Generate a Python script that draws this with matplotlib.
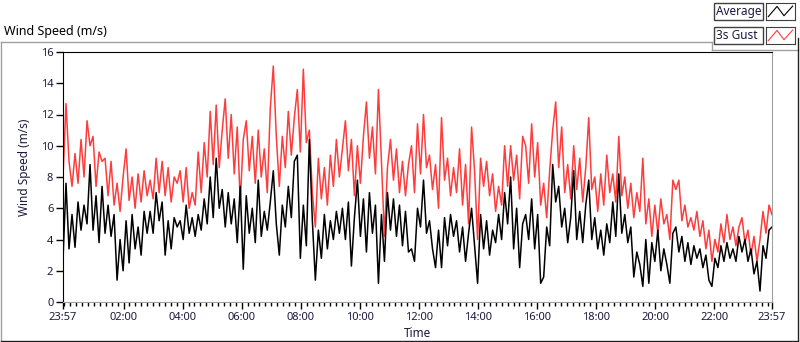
import numpy as np
import matplotlib.pyplot as plt
from matplotlib.patches import Rectangle
from matplotlib.lines import Line2D

# 字体设置
plt.rcParams['font.family'] = ['Noto Sans', 'DejaVu Sans']

# 平均风速 (m/s)，从 23:57 开始的一整天
avg_speed = [
    2.7, 7.6, 3.4, 5.6, 3.5, 6.4, 4.6, 6.2, 5.0, 8.8, 4.6, 6.8, 3.8, 7.4, 4.4, 6.2, 4.2, 5.6, 1.4, 4.0,
    2.0, 5.2, 2.5, 5.6, 3.4, 4.8, 3.0, 5.8, 4.4, 5.8, 4.4, 7.0, 5.2, 6.4, 3.0, 5.2, 3.4, 5.4, 4.8,
    5.2, 4.0, 6.2, 4.4, 5.4, 4.2, 5.6, 4.6, 6.6, 5.0, 8.0, 5.4, 9.2, 6.0, 7.2, 4.8, 7.0, 5.0, 6.6, 3.8,
    7.4, 2.1, 6.8, 4.4, 6.0, 3.8, 7.8, 4.2, 5.8, 4.6, 6.4, 8.4, 5.0, 3.0, 6.2, 4.8, 7.4, 5.4, 9.0,
    9.4, 2.8, 6.2, 3.6, 10.4, 5.2, 1.4, 4.6, 2.8, 5.6, 3.4, 5.2, 4.0, 5.8, 4.4, 6.0, 4.0, 6.4, 2.3,
    5.4, 7.8, 4.2, 6.6, 3.2, 7.0, 4.4, 6.2, 1.2, 5.6, 2.6, 7.0, 4.6, 6.6, 4.2, 6.2, 3.6, 5.8, 3.2,
    3.4, 2.6, 6.0, 4.8, 7.8, 4.4, 5.2, 3.4, 2.2, 4.6, 2.2, 5.4, 3.6, 5.6, 4.2, 5.2, 3.2, 4.8, 2.6,
    4.4, 6.0, 3.6, 1.2, 5.6, 3.4, 5.2, 3.0, 4.6, 3.8, 5.6, 4.0, 7.0, 5.0, 8.0, 3.4, 6.0, 2.2, 5.0,
    5.6, 4.0, 6.6, 3.4, 5.6, 1.2, 1.6, 4.8, 3.6, 8.8, 6.4, 7.4, 4.8, 6.0, 3.8, 5.4, 8.4, 4.0, 5.8,
    3.8, 6.2, 7.8, 4.0, 5.4, 3.4, 4.6, 3.0, 5.0, 3.8, 6.4, 4.2, 8.2, 4.4, 5.6, 3.8, 4.8, 1.6, 3.2, 2.4,
    1.0, 4.0, 1.2, 3.8, 2.6, 4.6, 2.0, 3.4, 2.4, 1.2, 4.4, 4.8, 3.2, 4.2, 2.6, 3.8, 2.4, 3.6, 2.8,
    3.4, 2.2, 3.0, 1.4, 1.0, 2.8, 2.2, 3.6, 2.6, 3.8, 2.8, 3.4, 2.6, 4.2, 3.2, 4.0, 2.6, 3.4, 1.8,
    2.6, 0.7, 3.6, 2.8, 4.6, 4.8,
]

# 3 秒阵风 (m/s)
gust_speed = [
    8.0, 12.7, 9.0, 7.4, 9.5, 7.6, 10.4, 8.0, 11.6, 10.0, 10.6, 7.4, 9.6, 9.0, 9.2, 6.8, 9.0, 6.2, 7.6,
    5.8, 8.0, 9.8, 6.5, 8.0, 6.0, 8.2, 6.4, 8.4, 6.8, 7.8, 6.6, 9.2, 7.0, 9.0, 6.8, 8.6, 6.4, 8.0, 7.6,
    8.4, 6.4, 8.6, 6.0, 7.0, 6.2, 9.6, 7.0, 10.2, 8.0, 12.2, 8.8, 12.6, 8.6, 11.0, 13.0, 9.2, 12.0, 8.2,
    11.2, 6.4, 10.4, 11.6, 8.4, 10.6, 7.6, 11.0, 8.0, 9.8, 7.0, 12.4, 15.1, 10.6, 7.4, 10.6, 8.6, 12.2,
    9.4, 11.8,
    13.6, 9.6, 14.9, 10.2, 11.0, 7.0, 4.8, 9.2, 6.6, 8.6, 6.2, 9.4, 7.4, 10.4, 8.0, 9.8, 11.6, 8.4,
    10.4, 6.8, 10.0, 7.6, 10.6, 12.8, 9.2, 11.2, 8.2, 13.6, 9.0, 4.2, 8.6, 10.4, 7.8, 9.8, 7.0, 9.0,
    6.8, 8.8,
    10.0, 7.0, 11.4, 8.2, 12.0, 8.6, 9.4, 7.2, 8.8, 6.0, 11.8, 7.8, 9.2, 6.8, 8.6, 7.0, 9.8, 6.2, 8.8,
    5.0, 11.2, 8.4, 4.0, 9.2, 7.4, 9.0, 6.8, 8.2, 5.8, 7.4, 6.2, 10.0, 7.4, 10.0, 7.8, 9.4, 6.6, 10.6,
    10.0, 7.6, 11.4, 8.0, 10.2, 6.2, 7.6, 5.4, 8.4, 11.0, 12.8, 8.6, 11.2, 7.0, 8.8, 6.6, 10.0, 7.2,
    9.2, 6.4, 8.6, 11.8, 7.2, 8.0, 5.8, 8.2, 6.2, 9.4, 7.0, 8.2, 6.4, 10.6, 6.8, 8.0, 6.0, 7.6, 5.4,
    7.0, 5.8,
    9.2, 5.0, 6.6, 4.2, 6.2, 4.4, 6.6, 5.0, 5.6, 4.0, 7.8, 7.2, 7.8, 5.2, 6.2, 4.8, 5.4, 4.6, 5.8, 4.2,
    5.2, 3.4, 4.6, 2.6, 4.0, 3.2, 5.0, 3.8, 5.6, 4.0, 4.8, 3.6, 4.8, 5.4, 3.8, 4.6, 3.0, 4.2, 2.6,
    4.0, 5.8, 4.4, 6.2, 5.6,
]

# 时间轴：从 23:57 起的小时数
tick_hours = [0.0, 2.05, 4.05, 6.05, 8.05, 10.05, 12.05, 14.05, 16.05, 18.05, 20.05, 22.05, 24.0]
tick_labels = ['23:57', '02:00', '04:00', '06:00', '08:00', '10:00', '12:00',
               '14:00', '16:00', '18:00', '20:00', '22:00', '23:57']

hours = np.linspace(0, 24, len(avg_speed))

W, H = 800, 342
fig = plt.figure(figsize=(W / 100, H / 100), dpi=100)


def box(x0, y0, x1, y1):
    # 像素坐标 -> figure 坐标
    return [x0 / W, 1 - y1 / H, (x1 - x0) / W, (y1 - y0) / H]


def fx(x):
    return x / W


def fy(y):
    return 1 - y / H


# 外框（LabVIEW 风格）
fig.add_artist(Line2D([fx(1), fx(1)], [fy(42), fy(341)], color='#a0a0a0', lw=1))
fig.add_artist(Line2D([fx(1), fx(712)], [fy(42), fy(42)], color='#a0a0a0', lw=1))
fig.add_artist(Line2D([fx(712), fx(712)], [fy(42), fy(50)], color='#a0a0a0', lw=1))
fig.add_artist(Line2D([fx(712), fx(798)], [fy(50), fy(50)], color='#a0a0a0', lw=1))
fig.add_artist(Line2D([fx(1), fx(798)], [fy(341), fy(341)], color='#202020', lw=1))
fig.add_artist(Line2D([fx(798), fx(798)], [fy(38), fy(341)], color='#202020', lw=1))

fig.text(fx(4), fy(32), 'Wind Speed (m/s)', fontsize=9, va='center', ha='left')

# 主图
ax = fig.add_axes(box(63, 52, 772, 302))
ax.plot(hours, gust_speed, color='#ff3c3c', lw=1.1)
ax.plot(hours, avg_speed, color='black', lw=1.1)
ax.set_xlim(0, 24)
ax.set_ylim(0, 16)
ax.set_yticks(range(0, 17, 2))
ax.set_xticks(tick_hours)
ax.set_xticklabels(tick_labels)
ax.set_xticks(np.arange(0.05, 24, 0.2), minor=True)
ax.tick_params(axis='both', which='major', labelsize=8, length=5, width=1, pad=2,
               labelcolor='#1a1a40')
ax.tick_params(axis='x', which='minor', length=3, width=1)
ax.spines['left'].set_color('black')
ax.spines['top'].set_color('black')
ax.spines['right'].set_color('#a0a0a0')
ax.spines['bottom'].set_color('#a0a0a0')
ax.set_ylabel('Wind Speed (m/s)', fontsize=8.5, color='#1a1a40')
ax.yaxis.set_label_coords(-0.045, 0.54)
ax.set_xlabel('Time', fontsize=8.5, color='#1a1a40')
ax.xaxis.set_label_coords(0.5, -0.1)

# 图例
legend_rows = [('Average', 'black', 3), ('3s Gust', '#ff3c3c', 27)]
for name, color, y0 in legend_rows:
    fig.add_artist(Rectangle((fx(714), fy(y0 + 17)), 49 / W, 17 / H, transform=fig.transFigure,
                             facecolor='white', edgecolor='#404040', lw=1))
    fig.text(fx(716), fy(y0 + 8.5), name, fontsize=8.5, va='center', ha='left', color='#1a1a40')
    ic = fig.add_axes(box(766, y0, 795, y0 + 17))
    ic.plot([0.08, 0.38, 0.62, 0.92], [0.2, 0.8, 0.25, 0.82], color=color, lw=0.8)
    ic.set_xlim(0, 1)
    ic.set_ylim(0, 1)
    ic.set_xticks([])
    ic.set_yticks([])
    for s in ic.spines.values():
        s.set_color('#404040')

fig.savefig('out.png', dpi=100)
